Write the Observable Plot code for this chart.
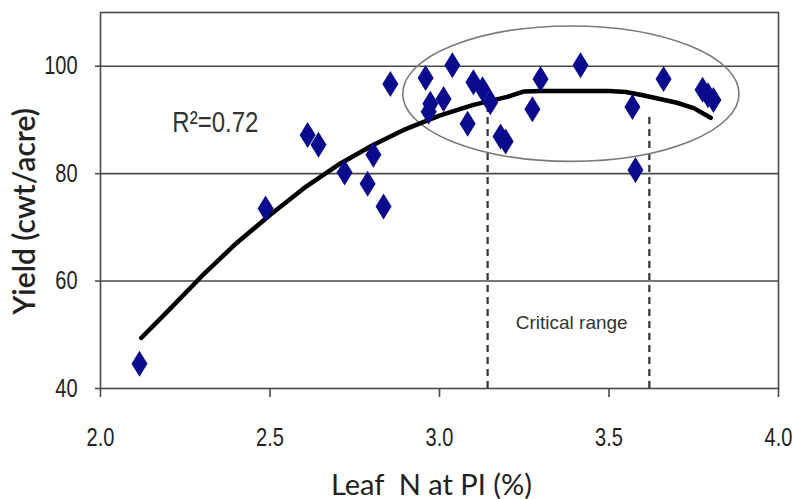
<!DOCTYPE html>
<html><head><meta charset="utf-8">
<script src="https://cdn.jsdelivr.net/npm/d3@7"></script>
<script src="https://cdn.jsdelivr.net/npm/@observablehq/plot@0.6"></script>
<style>body{margin:0;background:#fff} svg{display:block}</style>
</head><body><div id="chart"></div>
<script>
// Observations (leaf N at PI %, yield cwt/acre)
const leafN = [2.115, 2.487, 2.611, 2.643, 2.720, 2.788, 2.805, 2.835, 2.855, 2.959,
               3.038, 2.973, 3.012, 2.968, 3.083, 3.100, 3.127, 3.150, 3.180, 3.195,
               3.298, 3.274, 3.416, 3.569, 3.578, 3.661, 3.776, 3.792, 3.808];
const yieldVals = [44.6, 73.5, 87.2, 85.4, 80.2, 78.1, 83.5, 73.9, 96.7, 97.8,
                   100.2, 93.0, 93.9, 91.5, 89.3, 97.0, 95.7, 93.3, 86.9, 86.0,
                   97.6, 92.0, 100.2, 92.4, 80.7, 97.6, 95.6, 94.6, 93.7];
// Fitted curve
const fitN = [2.12, 2.2, 2.3, 2.4, 2.5, 2.6, 2.7, 2.8, 2.9, 3.0, 3.1, 3.2, 3.25, 3.3, 3.4, 3.5, 3.55, 3.6, 3.7, 3.75, 3.8];
const fitYield = [49.4, 54.5, 61, 67, 72.3, 77.3, 81.6, 85.2, 88.3, 90.8, 92.8, 94.3, 95.3, 95.4, 95.4, 95.4, 95.2, 94.6, 93.2, 92.2, 90.4];
const criticalN = [3.142, 3.619];
const criticalTop = [92, 91];
const xTicks = [2.0, 2.5, 3.0, 3.5, 4.0];
const yTicks = [40, 60, 80, 100];
const gridYields = [60, 80, 100];
const ellipseSpec = {cx: 3.389, cy: 94.8, rx: 0.496, ry: 12.6};
const r2Label = "R\u00B2=0.72";
const criticalLabel = "Critical range";
const xLabel = "Leaf\u00A0 N at PI (%)";
const yLabel = "Yield (cwt/acre)";

const points = leafN.map((x, i) => ({x, y: yieldVals[i]}));
const fit = fitN.map((x, i) => ({x, y: fitYield[i]}));
const critical = criticalN.map((x, i) => ({x, top: criticalTop[i]}));

const tallDiamond = {
  draw(context) {
    context.moveTo(0, -13);
    context.lineTo(8, 0);
    context.lineTo(0, 13);
    context.lineTo(-8, 0);
    context.closePath();
  }
};

function ellipseMark(...args) {
  const scales = args.find(a => a && typeof a.x === "function" && typeof a.y === "function");
  const x = scales.x, y = scales.y;
  const cx = x(ellipseSpec.cx), cy = y(ellipseSpec.cy);
  const rx = Math.abs(x(ellipseSpec.cx + ellipseSpec.rx) - cx);
  const ry = Math.abs(y(ellipseSpec.cy + ellipseSpec.ry) - cy);
  const el = document.createElementNS("http://www.w3.org/2000/svg", "ellipse");
  el.setAttribute("cx", cx); el.setAttribute("cy", cy);
  el.setAttribute("rx", rx); el.setAttribute("ry", ry);
  el.setAttribute("fill", "none"); el.setAttribute("stroke", "#7a7a7a");
  el.setAttribute("stroke-width", 1.6);
  return el;
}

const arial = "'Liberation Sans', Arial, sans-serif";
const calibriLike = "Lato, 'Open Sans', sans-serif";

const chart = Plot.plot({
  width: 793,
  height: 499,
  marginLeft: 100,
  marginRight: 15,
  marginTop: 12,
  marginBottom: 111,
  x: {domain: [2, 4]},
  y: {domain: [40, 110]},
  style: {background: "#fff"},
  marks: [
    Plot.ruleY(gridYields, {stroke: "#4a4a4a", strokeWidth: 1.6}),
    Plot.frame({stroke: "#4a4a4a", strokeWidth: 1.6}),
    Plot.axisX(xTicks, {tickSize: 9, tickPadding: 31, tickFormat: d3.format(".1f"), label: null,
      fontSize: 25, fontFamily: arial, fill: "#222", stroke: "#4a4a4a", strokeWidth: 1.6}),
    Plot.axisY(yTicks, {tickSize: 5, tickPadding: 18, tickFormat: d3.format("d"), label: null,
      fontSize: 25, fontFamily: arial, fill: "#222", stroke: "#4a4a4a", strokeWidth: 1.6}),
    Plot.ruleX(critical, {x: "x", y1: 40, y2: "top", stroke: "#333", strokeWidth: 2.2, strokeDasharray: "7,5"}),
    ellipseMark,
    Plot.line(fit, {x: "x", y: "y", stroke: "#000", strokeWidth: 4.5, strokeLinejoin: "round", strokeLinecap: "round"}),
    Plot.dot(points, {x: "x", y: "y", r: 5, symbol: tallDiamond, fill: "#0a0a8c", stroke: "none"}),
    Plot.text([r2Label], {x: 2.212, y: 89.6, text: d => d, textAnchor: "start", fontSize: 30, fontFamily: arial, fill: "#333"}),
    Plot.text([criticalLabel], {x: 3.39, y: 52.2, text: d => d, fontSize: 19, fontFamily: arial, fill: "#333"}),
    Plot.text([xLabel], {frameAnchor: "bottom", lineAnchor: "bottom", dx: -8, dy: 106, text: d => d, fontSize: 29, fontFamily: calibriLike, fill: "#222"}),
    Plot.text([yLabel], {frameAnchor: "left", textAnchor: "middle", rotate: -90, dx: -75, dy: 11, text: d => d, fontSize: 30, fontWeight: 600, fontFamily: calibriLike, fill: "#222"})
  ]
});
// condense the Arial-style labels horizontally, like the narrow face of the original
const condensed = new Set(xTicks.map(d3.format(".1f")).concat(yTicks.map(String), [r2Label]));
chart.querySelectorAll("text").forEach(el => {
  if (!condensed.has(el.textContent)) return;
  const t = el.getAttribute("transform") || "";
  el.setAttribute("transform", t + " scale(0.8,1)");
});
document.getElementById("chart").appendChild(chart);
</script>
</body></html>
